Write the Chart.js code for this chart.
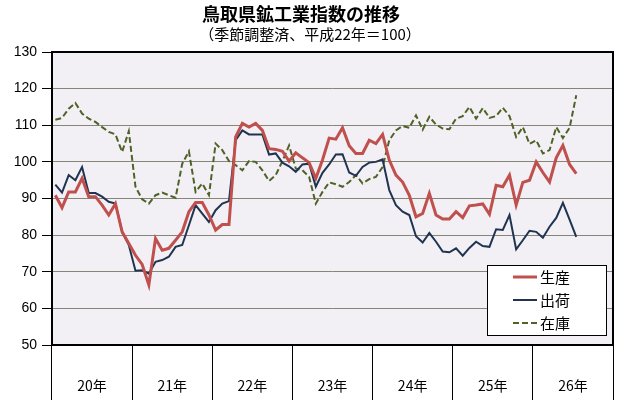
<!DOCTYPE html>
<html>
<head>
<meta charset="utf-8">
<script src="https://cdn.jsdelivr.net/npm/chart.js@4/dist/chart.umd.min.js"></script>
<style>
  html, body { margin: 0; padding: 0; background: #fff; }
  #wrap { width: 630px; height: 400px; position: relative; }
</style>
</head>
<body>
<div id="wrap"><canvas id="chart" width="630" height="400"></canvas></div>
<script>
// 鳥取県鉱工業指数 (季節調整済、平成22年=100) 月次 20年1月〜26年7月
const years = ['20年', '21年', '22年', '23年', '24年', '25年', '26年'];
const seriesNames = ['生産', '出荷', '在庫'];
const yTicks = [50, 60, 70, 80, 90, 100, 110, 120, 130];

const production = [
  90.9, 87.5, 91.8, 91.8, 95.5, 90.5, 90.5, 88.2, 85.5, 88.6, 80.9, 77.7,
  74.5, 72.0, 66.4, 79.1, 75.9, 76.4, 78.6, 80.9, 86.4, 88.9, 88.9, 85.5,
  81.4, 82.9, 82.9, 106.8, 110.5, 109.5, 110.5, 108.6, 103.6, 103.4, 102.9, 100.2,
  102.5, 101.1, 99.8, 95.5, 100.5, 106.5, 106.2, 109.3, 104.4, 102.3, 102.3, 105.9,
  105.0, 107.5, 100.5, 96.4, 94.5, 90.9, 85.0, 85.9, 91.4, 85.5, 84.4, 84.4,
  86.4, 84.8, 88.0, 88.2, 88.5, 85.7, 93.6, 93.2, 96.4, 88.2, 94.4, 95.0,
  100.0, 97.1, 94.5, 101.1, 104.5, 99.3, 96.8
];
const shipment = [
  93.8, 91.6, 96.4, 95.0, 98.6, 91.5, 91.5, 90.5, 89.1, 88.6, 80.9, 77.3,
  70.3, 70.4, 69.5, 72.7, 73.2, 74.1, 76.8, 77.3, 82.7, 88.2, 85.9, 83.6,
  86.8, 88.6, 89.3, 105.9, 108.6, 107.5, 107.5, 107.5, 102.0, 102.3, 99.8, 98.8,
  97.3, 99.3, 99.5, 93.2, 97.0, 99.3, 102.0, 102.1, 97.1, 96.2, 98.6, 99.8,
  100.0, 100.7, 92.3, 88.2, 86.4, 85.5, 79.7, 78.0, 80.6, 78.2, 75.5, 75.3,
  76.4, 74.4, 76.5, 78.2, 77.0, 76.8, 81.6, 81.4, 85.5, 76.1, 78.6, 81.2,
  80.9, 79.3, 82.3, 84.7, 88.8, 84.2, 79.5
];
const inventory = [
  111.5, 112.0, 114.5, 116.1, 113.2, 111.8, 110.9, 109.5, 108.2, 107.5, 102.7, 108.4,
  93.2, 89.8, 88.6, 90.9, 91.6, 90.9, 90.2, 99.5, 102.9, 91.8, 94.1, 90.9,
  105.0, 103.2, 100.2, 99.1, 97.7, 100.2, 100.0, 97.7, 94.8, 96.4, 100.2, 104.5,
  98.2, 97.7, 95.9, 88.6, 91.8, 94.4, 93.9, 93.2, 94.5, 96.4, 94.1, 95.3,
  95.9, 98.6, 105.9, 108.6, 109.8, 109.3, 112.7, 108.8, 112.3, 110.2, 109.1, 108.9,
  111.8, 112.5, 115.0, 111.8, 114.7, 112.0, 112.5, 114.8, 112.5, 106.8, 109.5, 104.9,
  105.9, 102.3, 103.2, 109.5, 106.5, 109.3, 118.2
];

// 月ラベル (20年1月〜26年12月)
const months = [];
years.forEach(y => { for (let m = 1; m <= 12; m++) months.push(y + m + '月'); });

const JP_FONT = '"Noto Sans CJK JP", "Noto Sans", sans-serif';

// Plot background and frame
const framePlugin = {
  id: 'frame',
  beforeDraw(chart) {
    const { ctx, chartArea: a } = chart;
    ctx.save();
    ctx.fillStyle = '#f2f0f4';
    ctx.fillRect(a.left, a.top, a.right - a.left, a.bottom - a.top);
    ctx.restore();
  },
  afterDatasetsDraw(chart) {
    const { ctx, chartArea: a } = chart;
    ctx.save();
    ctx.strokeStyle = '#000';
    ctx.lineWidth = 2;
    ctx.strokeRect(a.left, a.top, a.right - a.left, a.bottom - a.top);
    ctx.restore();
  }
};

// Titles
const titlePlugin = {
  id: 'titles',
  afterDraw(chart) {
    const ctx = chart.ctx;
    ctx.save();
    ctx.fillStyle = '#000';
    ctx.textAlign = 'center';
    ctx.textBaseline = 'middle';
    ctx.font = 'bold 18px ' + JP_FONT;
    ctx.fillText('鳥取県鉱工業指数の推移', 301, 14);
    ctx.font = '15px ' + JP_FONT;
    ctx.fillText('（季節調整済、平成22年＝100）', 310, 34);
    ctx.restore();
  }
};

// Legend box inside the plot
const legendPlugin = {
  id: 'boxLegend',
  afterDraw(chart) {
    const ctx = chart.ctx;
    const x = 487, y = 265, w = 119, h = 70;
    ctx.save();
    ctx.fillStyle = '#fff';
    ctx.fillRect(x, y, w, h);
    ctx.strokeStyle = '#000';
    ctx.lineWidth = 1;
    ctx.strokeRect(x + 0.5, y + 0.5, w, h);
    chart.data.datasets.forEach((ds, i) => {
      const ry = y + 12 + i * 23;
      ctx.strokeStyle = ds.borderColor;
      ctx.lineWidth = ds.borderWidth;
      ctx.setLineDash(ds.borderDash || []);
      ctx.beginPath();
      ctx.moveTo(x + 26, ry);
      ctx.lineTo(x + 50, ry);
      ctx.stroke();
      ctx.setLineDash([]);
      ctx.fillStyle = '#000';
      ctx.font = '15px ' + JP_FONT;
      ctx.textAlign = 'left';
      ctx.textBaseline = 'middle';
      ctx.fillText(ds.label, x + 53, ry);
    });
    ctx.restore();
  }
};

new Chart(document.getElementById('chart'), {
  type: 'line',
  data: {
    labels: months,
    datasets: [
      {
        label: seriesNames[0],
        data: production,
        borderColor: '#c0504d',
        borderWidth: 3,
        pointRadius: 0,
        tension: 0
      },
      {
        label: seriesNames[1],
        data: shipment,
        borderColor: '#1f3450',
        borderWidth: 2,
        pointRadius: 0,
        tension: 0
      },
      {
        label: seriesNames[2],
        data: inventory,
        borderColor: '#4f6228',
        borderWidth: 2,
        borderDash: [6, 3],
        pointRadius: 0,
        tension: 0
      }
    ]
  },
  options: {
    responsive: false,
    animation: false,
    devicePixelRatio: 1,
    layout: { padding: { top: 52, right: 17, left: 0, bottom: 0 } },
    plugins: {
      legend: { display: false },
      title: { display: false },
      tooltip: { enabled: false }
    },
    scales: {
      x: {
        type: 'category',
        offset: true,
        display: false
      },
      x2: {
        type: 'category',
        labels: years,
        position: 'bottom',
        offset: true,
        border: { display: false },
        grid: {
          offset: true,
          drawOnChartArea: false,
          color: '#000',
          lineWidth: 1,
          tickLength: 55
        },
        ticks: {
          padding: -23,
          color: '#000',
          font: { family: JP_FONT, size: 14 },
          maxRotation: 0,
          autoSkip: false
        },
        afterFit(scale) { scale.height = 55; }
      },
      y: {
        min: 50,
        max: 130,
        afterBuildTicks(scale) { scale.ticks = yTicks.map(v => ({ value: v })); },
        border: { display: false },
        grid: {
          color: '#858578',
          lineWidth: 1,
          tickColor: '#000',
          tickLength: 10
        },
        ticks: {
          padding: 5,
          color: '#000',
          font: { family: '"Liberation Sans", Arial, sans-serif', size: 14 }
        },
        afterFit(scale) { scale.width = 52; }
      }
    }
  },
  plugins: [framePlugin, titlePlugin, legendPlugin]
});
</script>
</body>
</html>
